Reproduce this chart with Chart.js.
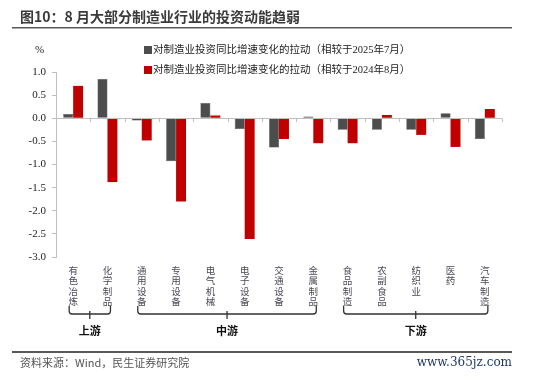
<!DOCTYPE html>
<html>
<head>
<meta charset="utf-8">
<script src="https://cdn.jsdelivr.net/npm/chart.js@4.4.1/dist/chart.umd.min.js"></script>
<style>
  html, body { margin: 0; padding: 0; background: #fff; }
  #wrap { position: relative; width: 550px; height: 381px; }
</style>
</head>
<body>
<div id="wrap"><canvas id="myChart" width="550" height="381"></canvas></div>
<script>
// --- data ---
const CATEGORIES = [
  "有色冶炼", "化学制品", "通用设备", "专用设备", "电气机械", "电子设备", "交通设备",
  "金属制品", "食品制造", "农副食品", "纺织业", "医药", "汽车制造",
];
const SERIES_NAMES = [
  "对制造业投资同比增速变化的拉动（相较于2025年7月）",
  "对制造业投资同比增速变化的拉动（相较于2024年8月）",
];
const PULL_VS_JUL25 = [0.09, 0.85, -0.05, -0.93, 0.33, -0.23, -0.63, 0.04, -0.25, -0.25, -0.25, 0.11, -0.45];
const PULL_VS_AUG24 = [0.70, -1.38, -0.48, -1.80, 0.06, -2.61, -0.45, -0.54, -0.54, 0.07, -0.36, -0.62, 0.20];
const Y_MIN = -3.0;
const Y_MAX = 1.0;
const GROUPS = [
  { name: "上游", from: 0, to: 1 },
  { name: "中游", from: 2, to: 7 },
  { name: "下游", from: 8, to: 12 },
];
const TITLE = "图10：8 月大部分制造业行业的投资动能趋弱";
const SOURCE = "资料来源：Wind，民生证券研究院";
const WATERMARK = "www.365jz.com";

// --- style ---
const GREY = "#4d4d4d";
const RED = "#c00000";
const SERIF = "'Liberation Serif', 'Times New Roman', 'Noto Sans CJK SC', serif";
const CJK = "'Noto Sans CJK SC', sans-serif";

// zero line, ticks at category boundaries, brackets, title, legend, footer
const decorPlugin = {
  id: "decor",
  afterDatasetsDraw(chart) {
    const ctx = chart.ctx;
    const x = chart.scales.x;
    const y = chart.scales.y;
    const y0 = y.getPixelForValue(0);
    const half = (x.getPixelForValue(1) - x.getPixelForValue(0)) / 2;

    ctx.save();
    // zero axis line
    ctx.strokeStyle = "#bfbfbf";
    ctx.lineWidth = 1;
    ctx.beginPath();
    ctx.moveTo(chart.chartArea.left, Math.round(y0) + 0.5);
    ctx.lineTo(chart.chartArea.right, Math.round(y0) + 0.5);
    ctx.stroke();
    for (let i = 1; i <= CATEGORIES.length; i++) {
      const px = Math.round(x.getPixelForValue(i - 1) + half) + 0.5;
      ctx.beginPath();
      ctx.moveTo(px, Math.round(y0) + 0.5);
      ctx.lineTo(px, Math.round(y0) + 4);
      ctx.stroke();
    }

    // group brackets
    const top = 306;
    const bottom = 314;
    ctx.strokeStyle = "#333";
    ctx.lineWidth = 1.3;
    GROUPS.forEach((g) => {
      const left = x.getPixelForValue(g.from) - 4;
      const right = x.getPixelForValue(g.to) + 3;
      const mid = (left + right) / 2;
      ctx.beginPath();
      ctx.moveTo(left, top);
      ctx.lineTo(left, bottom - 3);
      ctx.quadraticCurveTo(left, bottom, left + 3, bottom);
      ctx.lineTo(right - 3, bottom);
      ctx.quadraticCurveTo(right, bottom, right, bottom - 3);
      ctx.lineTo(right, top);
      ctx.stroke();
      ctx.beginPath();
      ctx.moveTo(mid, bottom - 3);
      ctx.lineTo(mid, bottom + 5);
      ctx.stroke();
      ctx.fillStyle = "#111";
      ctx.font = "bold 11px " + CJK;
      ctx.textAlign = "center";
      ctx.textBaseline = "middle";
      ctx.fillText(g.name, mid, 331);
    });

    // "%" unit
    ctx.fillStyle = "#222";
    ctx.font = "11px " + SERIF;
    ctx.textAlign = "left";
    ctx.fillText("%", 35, 50);

    // legend
    const colors = [GREY, RED];
    SERIES_NAMES.forEach((name, i) => {
      const ly = 50 + i * 20;
      ctx.fillStyle = colors[i];
      ctx.fillRect(144, ly - 4, 8, 8);
      ctx.fillStyle = "#222";
      ctx.font = "10.5px " + SERIF;
      ctx.textBaseline = "middle";
      ctx.fillText(name, 153, ly);
    });

    // title and rules
    ctx.fillStyle = "#3a3a3a";
    ctx.font = "bold 14px " + CJK;
    ctx.textBaseline = "middle";
    ctx.fillText(TITLE, 20, 17);
    ctx.fillStyle = "#595959";
    ctx.fillRect(12, 27, 500, 1.5);
    ctx.fillRect(12, 351, 500, 2);

    // footer
    ctx.fillStyle = "#555";
    ctx.font = "11px " + CJK;
    ctx.fillText(SOURCE, 20, 363);
    ctx.fillStyle = "#1f3864";
    ctx.font = "12px 'DejaVu Serif', serif";
    ctx.textAlign = "right";
    ctx.fillText(WATERMARK, 512, 363);
    ctx.restore();
  },
};

function init() {
  const ctx = document.getElementById("myChart").getContext("2d");
  new Chart(ctx, {
    type: "bar",
    data: {
      labels: CATEGORIES.map((c) => c.split("")),
      datasets: [
        {
          label: SERIES_NAMES[0],
          data: PULL_VS_JUL25,
          backgroundColor: GREY,
          borderColor: "#3a3a3a",
          borderWidth: 0.5,
        },
        {
          label: SERIES_NAMES[1],
          data: PULL_VS_AUG24,
          backgroundColor: RED,
          borderColor: RED,
          borderWidth: 0,
        },
      ],
    },
    options: {
      responsive: false,
      animation: false,
      layout: { padding: { left: 0, top: 72, right: 48, bottom: 0 } },
      datasets: { bar: { categoryPercentage: 0.58, barPercentage: 1.0 } },
      scales: {
        x: {
          grid: { display: false },
          border: { display: false },
          ticks: {
            maxRotation: 0,
            autoSkip: false,
            padding: 0,
            color: "#4a4a55",
            font: { family: CJK, size: 9.5, lineHeight: 1.1 },
          },
          afterFit(scale) {
            scale.height = 124;
          },
        },
        y: {
          min: Y_MIN,
          max: Y_MAX,
          ticks: {
            stepSize: 0.5,
            padding: 6,
            color: "#222",
            font: { family: SERIF, size: 11 },
            callback: (v) => Number(v).toFixed(1),
          },
          grid: { drawOnChartArea: false, tickLength: 4, color: "#bfbfbf" },
          border: { color: "#bfbfbf" },
          afterFit(scale) {
            scale.width = 56;
          },
        },
      },
      plugins: {
        legend: { display: false },
        tooltip: { enabled: false },
      },
    },
    plugins: [decorPlugin],
  });
}

document.addEventListener("DOMContentLoaded", init);
</script>
</body>
</html>
